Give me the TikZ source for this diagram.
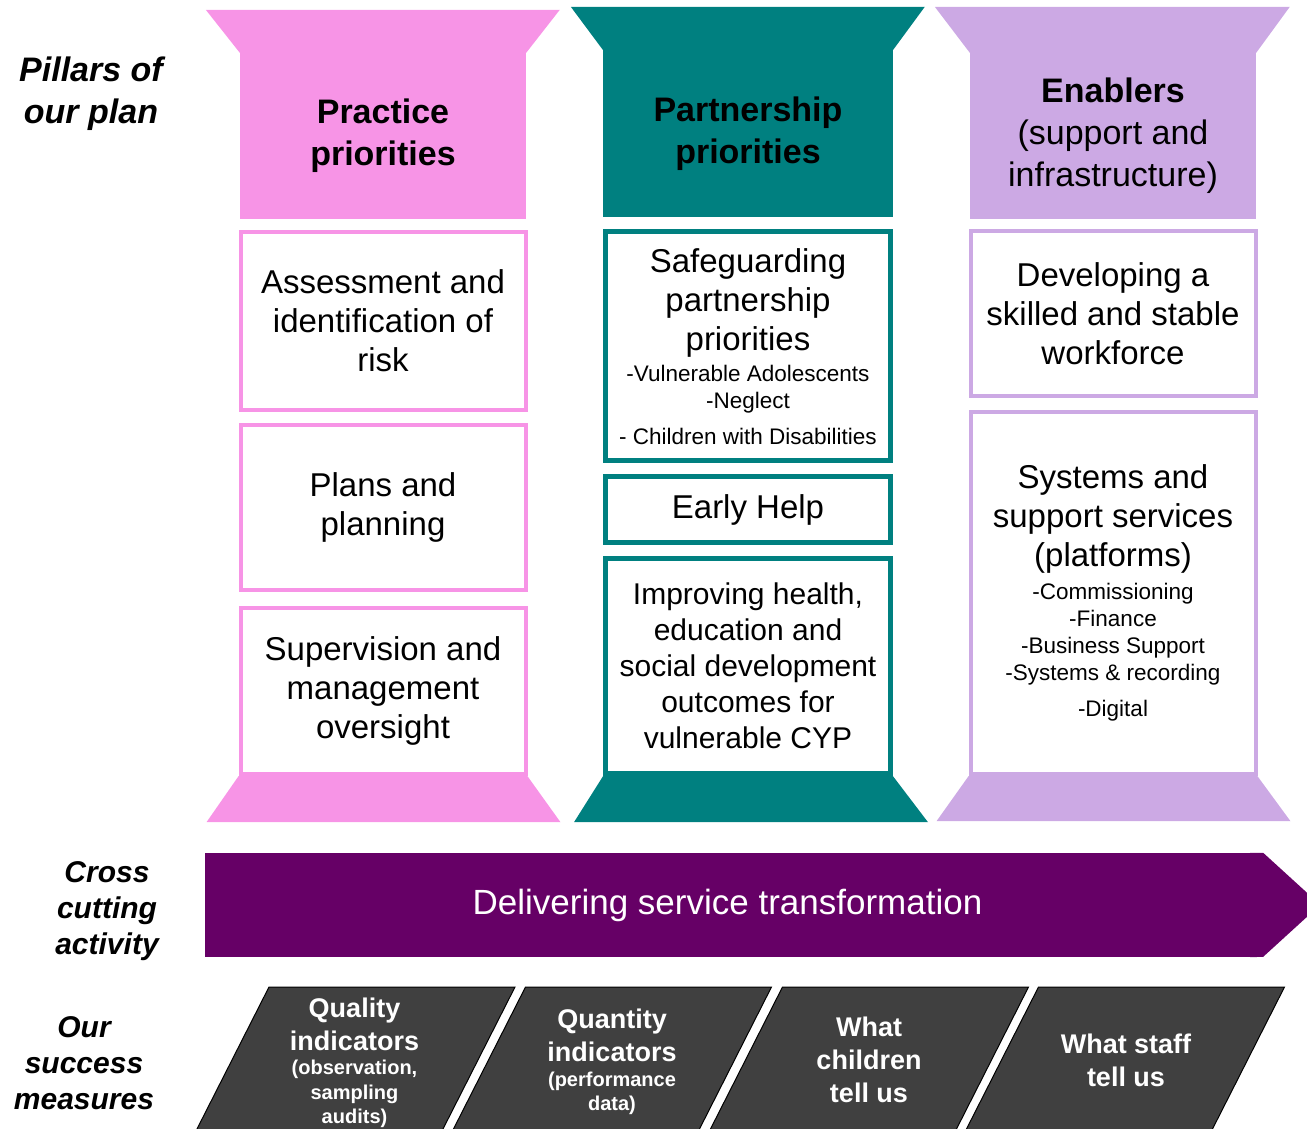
\documentclass[tikz,border=0pt]{standalone}
\usepackage{fontspec}
\setmainfont{Liberation Sans}
\usetikzlibrary{positioning}

\definecolor{practicepink}{HTML}{F794E6}
\definecolor{partnerteal}{HTML}{008080}
\definecolor{enablerlilac}{HTML}{CCA9E4}
\definecolor{transformpurple}{HTML}{660066}
\definecolor{measgrey}{HTML}{404040}

\newcommand{\headfont}{\fontsize{34}{42}\selectfont}
\newcommand{\boxfont}{\fontsize{33}{39}\selectfont}
\newcommand{\listfont}{\fontsize{22.5}{27}\selectfont}
\newcommand{\sidefont}{\bfseries\itshape\fontsize{30}{36}\selectfont}
\newcommand{\measfont}{\bfseries\fontsize{27}{33}\selectfont}
\newcommand{\measnote}{\fontsize{20}{24.5}\selectfont}

\tikzset{
  pillarhead/.style={rectangle, fill=#1, minimum width=286pt, minimum height=166pt,
    inner sep=0pt, align=center, font=\headfont},
  goalbox/.style={rectangle, draw=#1, fill=white, line width=4pt, minimum width=285pt,
    text width=280pt, inner sep=0pt, align=flush center, font=\boxfont},
  sidelabel/.style={align=center, inner sep=0pt, font=\sidefont},
  band/.style={rectangle, fill=transformpurple, text=white, minimum width=1045pt,
    minimum height=104pt, inner sep=0pt, font=\fontsize{35}{42}\selectfont},
  slab/.style={fill=measgrey, draw=black, line width=1pt},
  measlabel/.style={align=flush center, text=white, text width=200pt, inner sep=0pt, font=\measfont}
}

\begin{document}
\begin{tikzpicture}[x=1pt, y=-1pt, node distance=11pt]
  \useasboundingbox (0,0) rectangle (1307,1129);
  \clip (0,0) rectangle (1307,1129);

  % Side labels
  \node[sidelabel, font=\bfseries\itshape\fontsize{34}{42}\selectfont] (pillars) at (91,94) {Pillars of\\our plan};
  \node[sidelabel] (cross) at (107,911) {Cross\\cutting\\activity};
  \node[sidelabel] (success) at (84,1063) {Our\\success\\measures};

  % Practice pillar
  \node[pillarhead=practicepink] (practice) at (383,136) {\textbf{Practice}\\\textbf{priorities}};
  \fill[practicepink] (practice.north west) -- ++(-34,-43) -- ++(354,0) -- (practice.north east) -- cycle;
  \node[goalbox=practicepink, minimum height=178pt, below=of practice] (assess) {Assessment and\\identification of\\risk};
  \node[goalbox=practicepink, minimum height=165pt, below=of assess] (plans) {Plans and\\planning};
  \node[goalbox=practicepink, minimum height=166pt, below=14pt of plans] (superv) {Supervision and\\management\\oversight};
  \fill[practicepink] (superv.south west) -- ++(-32,46) -- ++(354,0) -- (superv.south east) -- cycle;

  % Partnership pillar
  \node[pillarhead=partnerteal, minimum width=290pt, minimum height=167pt] (partner) at (748,133.5) {\textbf{Partnership}\\\textbf{priorities}};
  \fill[partnerteal] (partner.north west) -- ++(-32,-43) -- ++(354,0) -- (partner.north east) -- cycle;
  \node[goalbox=partnerteal, line width=5pt, minimum height=229pt, below=12pt of partner] (safeg)
    {Safeguarding\\partnership\\priorities\par\vspace{4pt}{\listfont -Vulnerable Adolescents\\-Neglect\\[9pt]- Children with Disabilities\par}};
  \node[goalbox=partnerteal, line width=5pt, minimum height=66pt, below=of safeg] (earlyhelp) {Early Help};
  \node[goalbox=partnerteal, line width=5pt, minimum height=215pt, below=of earlyhelp,
    font=\fontsize{30}{36}\selectfont] (improve) {Improving health,\\education and\\social development\\outcomes for\\vulnerable CYP};
  \fill[partnerteal] (improve.south west) -- ++(-29,46) -- ++(354,0) -- (improve.south east) -- cycle;

  % Enablers pillar
  \node[pillarhead=enablerlilac] (enablers) at (1113,136) {\textbf{Enablers}\\(support and\\infrastructure)};
  \fill[enablerlilac] (enablers.north west) -- ++(-35,-46) -- ++(355,0) -- (enablers.north east) -- cycle;
  \node[goalbox=enablerlilac, minimum height=165pt, below=10pt of enablers] (workforce) {Developing a\\skilled and stable\\workforce};
  \node[goalbox=enablerlilac, minimum height=362pt, below=12pt of workforce] (systems)
    {Systems and\\support services\\(platforms)\par\vspace{6pt}{\listfont -Commissioning\\-Finance\\-Business Support\\-Systems \& recording\\[9pt]-Digital\par}};
  \fill[enablerlilac] (systems.south west) -- ++(-32,45) -- ++(354,0) -- (systems.south east) -- cycle;

  % Cross cutting band
  \node[band] (transform) at (727.5,905) {Delivering service transformation};
  \fill[transformpurple] (transform.north east) -- ++(13,0) -- ++(57,52) -- ++(-57,52) -- (transform.south east) -- cycle;

  % Success measures
  \foreach \cx in {354.5, 611, 868, 1124}
    \draw[slab] (\cx,1061) ++(-85.5,-74) -- ++(246,0) -- ++(-77.6,153) -- ++(-246,0) -- cycle;
  \node[measlabel] (quality) at (354.5,1063) {Quality\\indicators\par{\measnote (observation,\\sampling\\audits)\par}};
  \node[measlabel] (quantity) at (612,1062) {Quantity\\indicators\par{\measnote (performance\\data)\par}};
  \node[measlabel] (children) at (869,1060) {What\\children\\tell us};
  \node[measlabel] (staff) at (1126,1060) {What staff\\tell us};

\end{tikzpicture}
\end{document}
